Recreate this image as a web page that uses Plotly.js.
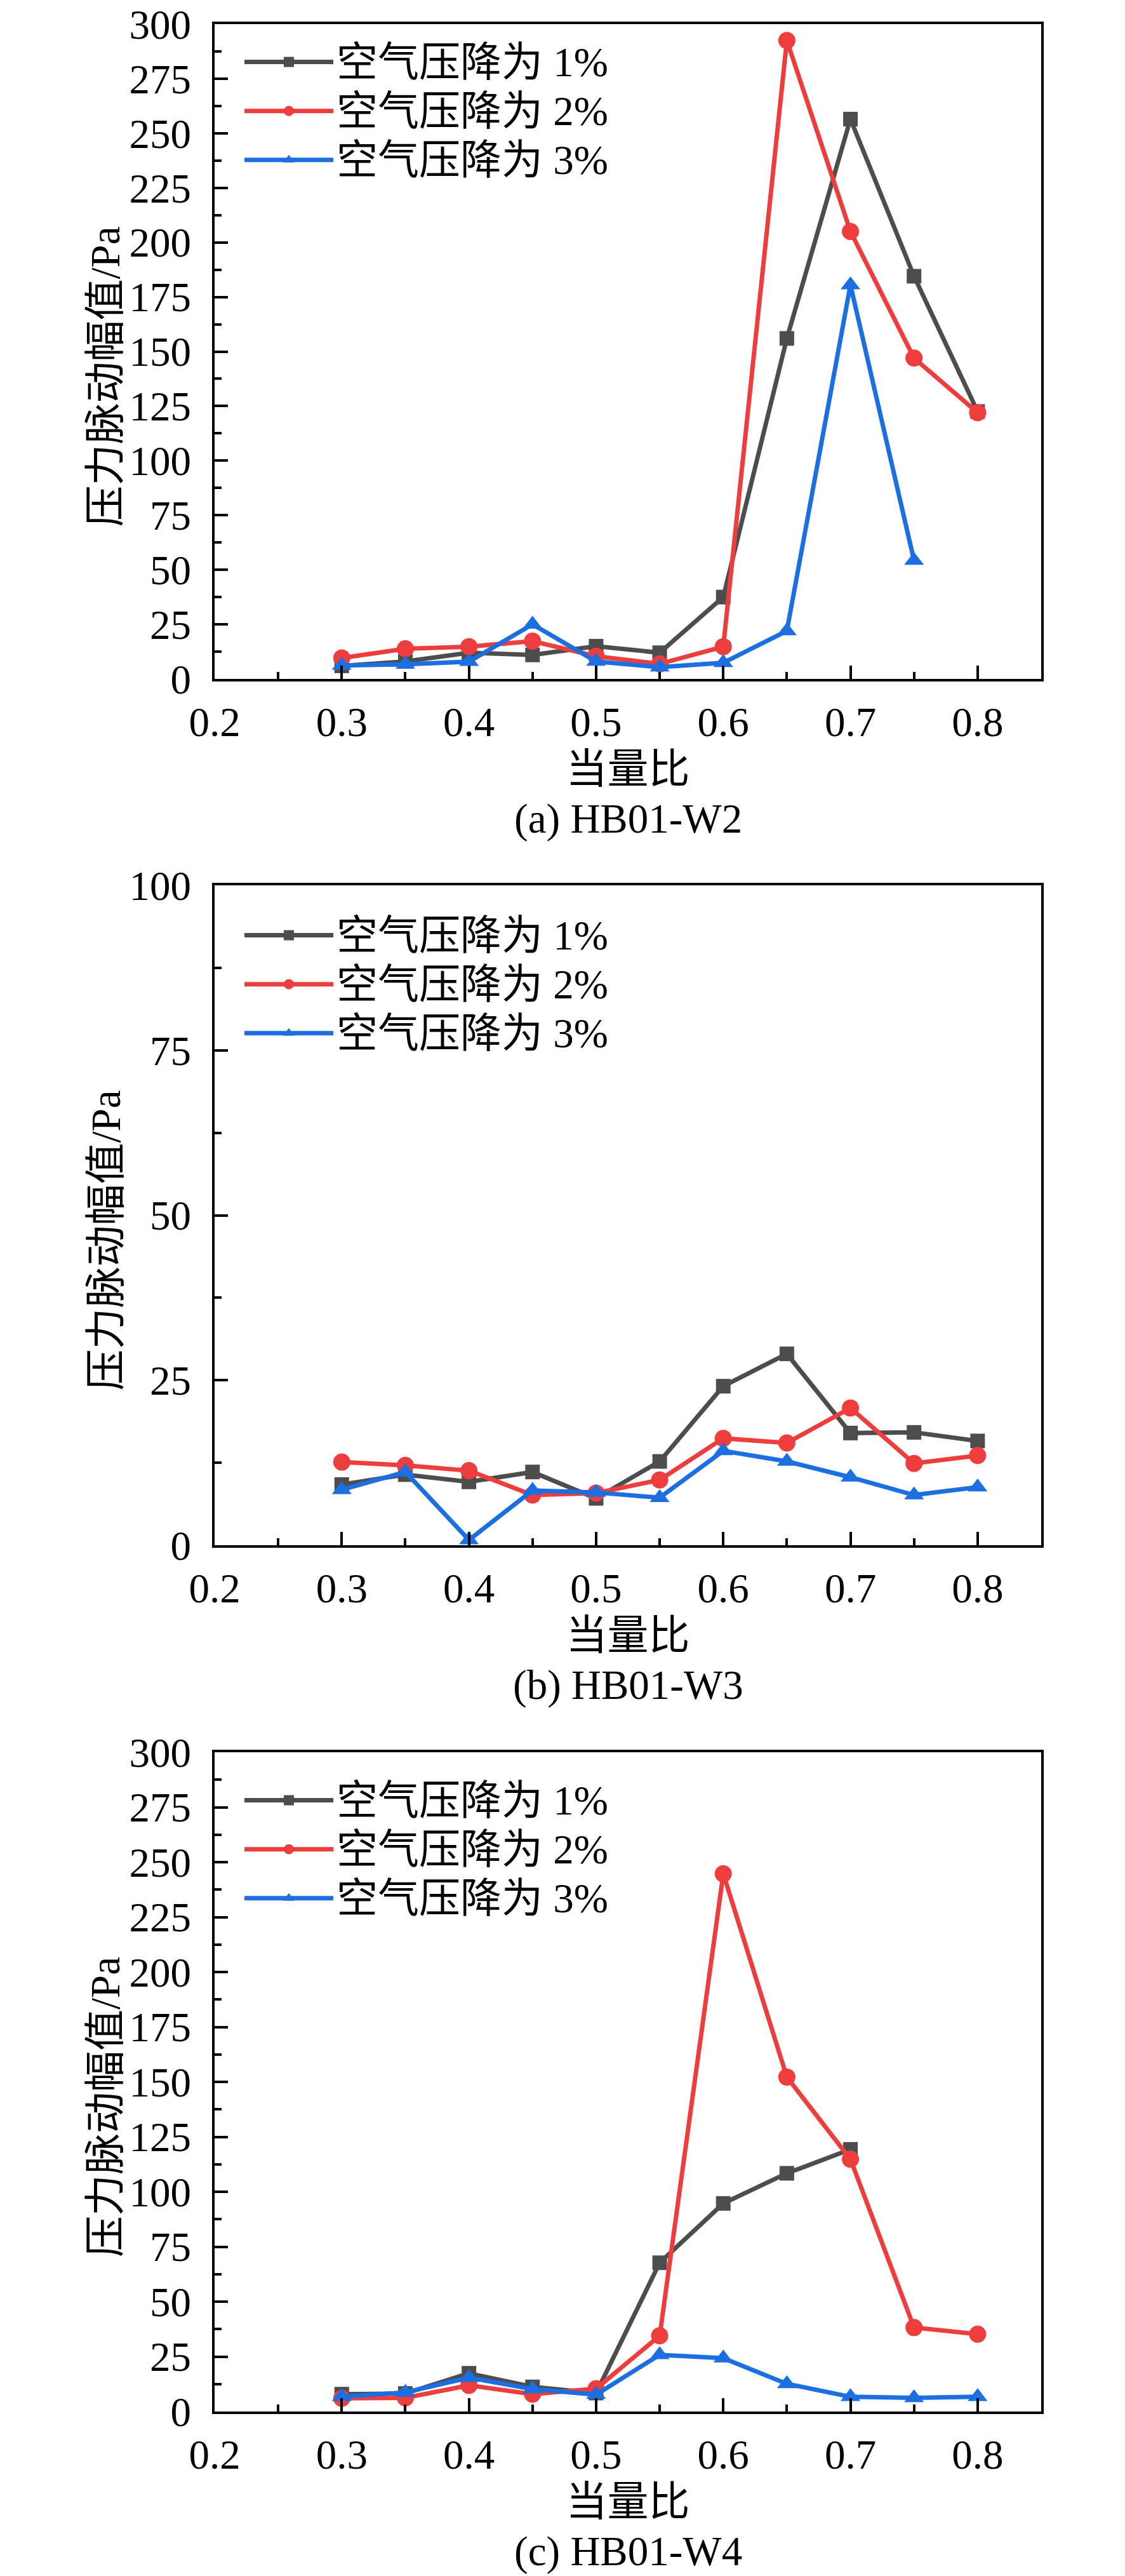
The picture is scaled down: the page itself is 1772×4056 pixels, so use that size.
<!DOCTYPE html>
<html>
<head>
<meta charset="utf-8">
<script src="https://cdn.plot.ly/plotly-3.0.1.min.js"></script>
<style>body { margin: 0; background: #fff; }</style>
</head>
<body>
<div id="myDiv" style="width:1772px;height:4056px;"></div>
<script>
// x axis: 当量比 (equivalence ratio), shared by all three panels
var ratio = [0.3, 0.35, 0.4, 0.45, 0.5, 0.55, 0.6, 0.65, 0.7, 0.75, 0.8];
var seriesNames = ['空气压降为 1%', '空气压降为 2%', '空气压降为 3%'];
var captions = ['(a) HB01-W2', '(b) HB01-W3', '(c) HB01-W4'];
var yMax = [300, 100, 300];

// (a) HB01-W2, pressure fluctuation amplitude in Pa
var w2_drop1 = [6, 8, 12, 11, 15, 12, 37.5, 156, 256.5, 184.5, 122.5];
var w2_drop2 = [9.6, 13.8, 14.8, 17.3, 10.4, 6.9, 14.8, 292.5, 205, 147, 122];
var w2_drop3 = [6.2, 6.7, 7.9, 25, 8, 5.4, 7.4, 22, 180.5, 54.3]; // no point at 0.8

// (b) HB01-W3
var w3_drop1 = [9.2, 10.7, 9.6, 11.1, 7.1, 12.7, 24.1, 29, 17, 17.1, 15.8];
var w3_drop2 = [12.6, 12.1, 11.3, 7.6, 7.9, 9.9, 16.2, 15.5, 20.8, 12.4, 13.6];
var w3_drop3 = [8.4, 11.1, 0.8, 8.3, 8.0, 7.2, 14.3, 12.7, 10.3, 7.6, 8.8];

// (c) HB01-W4
var w4_drop1 = [7.9, 8.2, 17.4, 11.2, 8.4, 67.7, 94.7, 108.4, 119.3]; // stops at 0.7
var w4_drop2 = [6, 6.2, 11.9, 7.9, 10.4, 34.5, 244.7, 152.2, 114.8, 38.2, 35.2];
var w4_drop3 = [6.7, 8.7, 15.4, 10.2, 7.7, 25.8, 24.3, 12.6, 6.7, 6.2, 6.7];

var panelSeries = [
    [w2_drop1, w2_drop2, w2_drop3],
    [w3_drop1, w3_drop2, w3_drop3],
    [w4_drop1, w4_drop2, w4_drop3]
];

// styling
var W = 1772, H = 4056;
var colors = ['#4d4d4d', '#ee3d3d', '#1c6fe0'];
var symbols = ['square', 'circle', 'triangle-up'];
var markerSizes = [23, 27, 27];
var serif = '"Times New Roman", "Liberation Serif", "Noto Sans CJK SC", serif';
var plotLeft = 338, plotRight = 1640;
var plotTop = [38, 1394, 2759];      // pixel rows of each panel's frame (first one nudged so "300" stays on the page)
var plotBottom = [1069, 2433, 3797];
var legendTop = [16, 35, 32];        // legend offset below the frame top

var data = [];
var layout = {
    width: W,
    height: H,
    margin: {l: 0, r: 0, t: 0, b: 0},
    paper_bgcolor: '#fff',
    plot_bgcolor: '#fff',
    font: {family: serif, size: 64, color: '#000'},
    annotations: []
};

for (let p = 0; p < 3; p++) {
    var n = p + 1;
    var sfx = (n === 1 ? '' : String(n));
    var legName = 'legend' + sfx;

    for (let s = 0; s < 3; s++) {
        data.push({
            x: ratio,
            y: panelSeries[p][s],
            xaxis: 'x' + sfx,
            yaxis: 'y' + sfx,
            legend: legName,
            mode: 'lines+markers',
            // legend rows are spaced by the legend font size, the text itself is drawn larger
            name: '<span style="font-size:65px">' + seriesNames[s] + '</span>',
            line: {color: colors[s], width: 7},
            marker: {symbol: symbols[s], size: markerSizes[s], color: colors[s]}
        });
    }

    layout['xaxis' + sfx] = {
        domain: [plotLeft / W, plotRight / W],
        anchor: 'y' + sfx,
        range: [0.2, 0.85],
        tick0: 0.2,
        dtick: 0.1,
        ticks: 'inside',
        ticklen: 21,
        tickwidth: 4,
        tickcolor: '#000',
        minor: {ticks: 'inside', ticklen: 11, tickwidth: 4, tickcolor: '#000', dtick: 0.05, tick0: 0.2, showgrid: false},
        showline: true,
        linewidth: 4,
        linecolor: '#000',
        mirror: true,
        showgrid: false,
        zeroline: false,
        ticklabelstandoff: 8,
        ticklabeloverflow: 'allow',
        tickfont: {family: serif, size: 65},
        title: {text: '当量比', font: {family: serif, size: 65}, standoff: 16}
    };
    layout['yaxis' + sfx] = {
        domain: [1 - plotBottom[p] / H, 1 - plotTop[p] / H],
        anchor: 'x' + sfx,
        range: [0, yMax[p]],
        tick0: 0,
        dtick: 25,
        ticks: 'inside',
        ticklen: 21,
        tickwidth: 4,
        tickcolor: '#000',
        minor: {ticks: 'inside', ticklen: 11, tickwidth: 4, tickcolor: '#000', dtick: 12.5, tick0: 0, showgrid: false},
        showline: true,
        linewidth: 4,
        linecolor: '#000',
        mirror: true,
        showgrid: false,
        zeroline: false,
        ticklabelstandoff: 20,
        ticklabeloverflow: 'allow',
        tickfont: {family: serif, size: 65}
    };
    layout[legName] = {
        x: 380 / W,
        y: 1 - (plotTop[p] + legendTop[p]) / H,
        xanchor: 'left',
        yanchor: 'top',
        bgcolor: 'rgba(0,0,0,0)',
        borderwidth: 0,
        itemwidth: 140,
        tracegroupgap: 0,
        font: {family: serif, size: 57, color: '#000'}
    };
    // y axis title sits a little below the frame centre in the original
    layout.annotations.push({
        xref: 'paper',
        yref: 'paper',
        x: 166 / W,
        y: 1 - ((plotTop[p] + plotBottom[p]) / 2 + 40) / H,
        xanchor: 'center',
        yanchor: 'middle',
        textangle: -90,
        showarrow: false,
        text: '压力脉动幅值/Pa',
        font: {family: serif, size: 65, color: '#000'}
    });
    layout.annotations.push({
        xref: 'paper',
        yref: 'paper',
        x: (plotLeft + plotRight) / 2 / W,
        y: 1 - (plotBottom[p] + 220) / H,
        xanchor: 'center',
        yanchor: 'middle',
        showarrow: false,
        text: captions[p],
        font: {family: serif, size: 65, color: '#000'}
    });
}

Plotly.newPlot('myDiv', data, layout, {staticPlot: true});
</script>
</body>
</html>
